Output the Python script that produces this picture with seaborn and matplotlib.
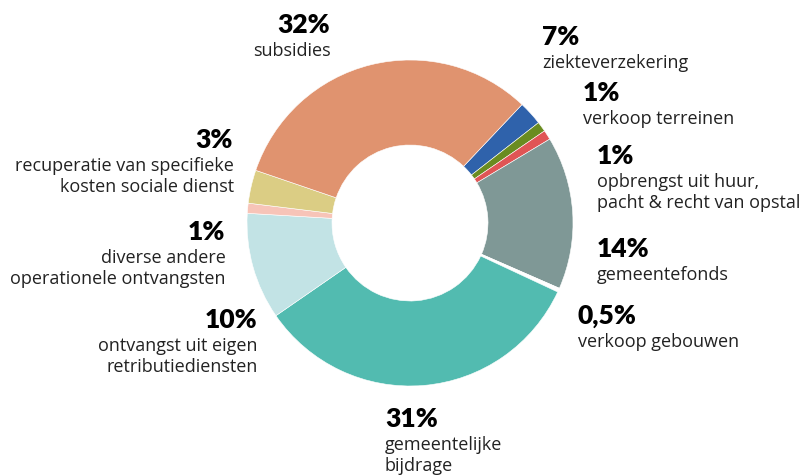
import matplotlib
matplotlib.use("Agg")
import matplotlib.pyplot as plt
import seaborn as sns

# ------------------ Data ------------------
# clockwise from the top-right, slice sizes read off the ring
categories = ["ziekteverzekering", "verkoop terreinen", "opbrengst uit huur,\npacht & recht van opstal",
              "gemeentefonds", "verkoop gebouwen", "gemeentelijke\nbijdrage",
              "ontvangst uit eigen\nretributiediensten", "diverse andere\noperationele ontvangsten",
              "recuperatie van specifieke\nkosten sociale dienst", "subsidies"]
pct_labels = ["7%", "1%", "1%", "14%", "0,5%", "31%", "10%", "1%", "3%", "32%"]
shares = [2.4, 1.0, 0.95, 15.2, 0.4, 33.5, 10.6, 1.0, 3.3, 31.9]
colors = ["#2F62AB", "#6A8C20", "#E05555", "#7F9896", "#FFFFFF",
          "#52BBB0", "#C2E3E5", "#F7C4B8", "#DBCD84", "#E0936F"]

# label anchors in pixels (x, baseline of percentage, alignment)
label_pos = [(542, 45, "left"), (583, 101, "left"), (597, 164, "left"), (597, 257, "left"),
             (578, 324, "left"), (385, 427, "left"), (257, 328, "right"), (225, 240, "right"),
             (233, 148, "right"), (330, 33, "right")]

# ------------------ Plot ------------------
sns.set_theme(style="white")
plt.rcParams["font.family"] = ["Open Sans", "DejaVu Sans"]

W, H = 806, 475
fig = plt.figure(figsize=(W / 100, H / 100), dpi=100)
ax = fig.add_axes([0, 0, 1, 1])

ax.pie(shares, colors=colors, startangle=46.6, counterclock=False,
       center=(410, H - 223), radius=163, frame=True,
       wedgeprops=dict(width=163 - 78, linewidth=0.4, edgecolor="white"))
ax.set_xlim(0, W)
ax.set_ylim(0, H)
ax.set_aspect("equal")
ax.axis("off")

for cat, pct, (x, y, ha) in zip(categories, pct_labels, label_pos):
    ax.text(x, H - y, pct, ha=ha, va="baseline", fontsize=19, fontweight="heavy",
            family=["Lato", "DejaVu Sans"], color="black")
    for i, line in enumerate(cat.split("\n")):
        ax.text(x + (1 if ha == "right" else 0), H - (y + 23 + 21 * i), line, ha=ha, va="baseline",
                fontsize=13, color="#222222")

fig.savefig("out.png", dpi=100)
